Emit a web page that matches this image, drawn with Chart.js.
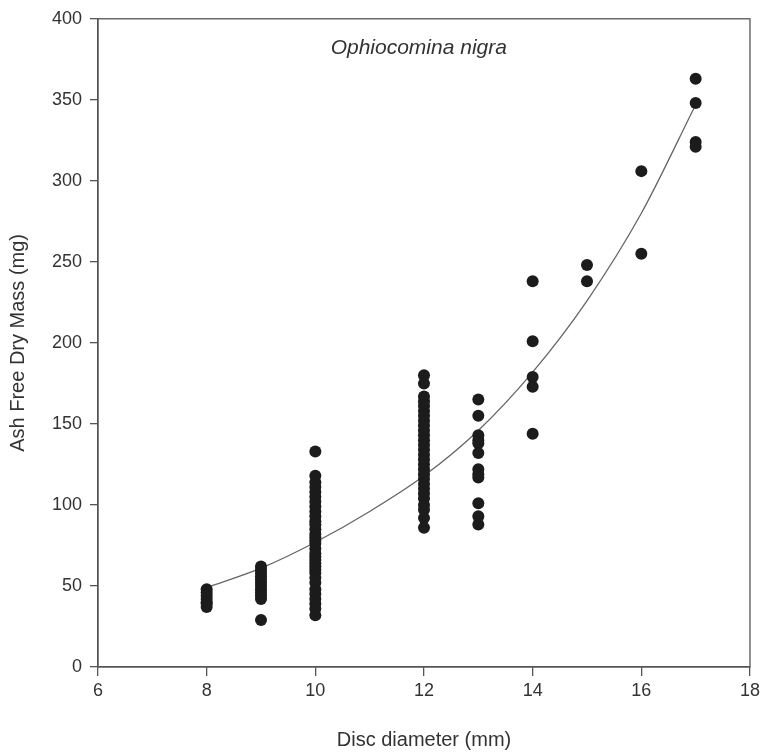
<!DOCTYPE html>
<html>
<head>
<meta charset="utf-8">
<script src="https://cdn.jsdelivr.net/npm/chart.js@4"></script>
<style>
  html, body { margin: 0; padding: 0; background: #fff; }
  #wrap { width: 764px; height: 756px; }
</style>
</head>
<body>
<div id="wrap"><canvas id="c" width="764" height="756"></canvas></div>
<script>
// --- data ---

const SPECIES = 'Ophiocomina nigra';
const X_TITLE = 'Disc diameter (mm)';
const Y_TITLE = 'Ash Free Dry Mass (mg)';

const mass8 = [48, 46, 44, 42, 40, 39, 37];
const mass9 = [62, 60, 58, 56, 54, 52, 50, 48, 46, 44, 42, 29];
const mass10 = [133, 118, 114, 111, 108, 105, 102, 99, 96, 93, 90, 88, 85, 82, 80, 78, 76, 73,
  70, 68, 66, 64, 62, 60, 58, 55, 52, 48, 45, 42, 39, 36, 32];
const mass12 = [180, 175, 167, 164, 161, 158, 155, 152, 149, 146, 143, 140, 137, 134, 131, 128,
  125, 122, 119, 116, 113, 110, 107, 104, 100, 97, 92, 86];
const mass13 = [165, 155, 143, 140, 138, 132, 122, 119, 117, 101, 93, 88];
const mass14 = [238, 201, 179, 173, 144];
const mass15 = [248, 238];
const mass16 = [306, 255];
const mass17 = [363, 348, 324, 321];

// fitted curve, read at whole millimetres
const fitX = [8, 9, 10, 11, 12, 13, 14, 15, 16, 17];
const fitY = [49, 61, 77, 96, 118, 146, 182, 226, 280, 347];

const xTicks = [6, 8, 10, 12, 14, 16, 18];
const yTicks = [0, 50, 100, 150, 200, 250, 300, 350, 400];

const columns = [[8, mass8], [9, mass9], [10, mass10], [12, mass12], [13, mass13],
  [14, mass14], [15, mass15], [16, mass16], [17, mass17]];

const points = [];
for (const [d, list] of columns) for (const m of list) points.push({ x: d, y: m });

const AXIS = '#555';
const TEXT = '#333';
const FONT = "'Liberation Sans', Arial, sans-serif";

// box round the plot + species label
const framePlugin = {
  id: 'frame',
  afterDraw(chart) {
    const { ctx, chartArea: a } = chart;
    ctx.save();
    ctx.strokeStyle = AXIS;
    ctx.lineWidth = 1.3;
    ctx.strokeRect(a.left, a.top, a.right - a.left, a.bottom - a.top);
    ctx.fillStyle = TEXT;
    ctx.font = 'italic 21px ' + FONT;
    ctx.textAlign = 'center';
    ctx.textBaseline = 'middle';
    ctx.fillText(SPECIES, a.left + (a.right - a.left) * 0.492, a.top + 29);
    ctx.restore();
  }
};

new Chart(document.getElementById('c'), {
  type: 'scatter',
  data: {
    datasets: [
      {
        label: 'fit',
        data: fitX.map((x, i) => ({ x, y: fitY[i] })),
        showLine: true,
        borderColor: '#666',
        borderWidth: 1.3,
        pointRadius: 0,
        cubicInterpolationMode: 'monotone',
        order: 2
      },
      {
        label: 'obs',
        data: points,
        backgroundColor: '#1c1c1c',
        borderColor: '#1c1c1c',
        borderWidth: 0,
        pointRadius: 6,
        order: 1
      }
    ]
  },
  options: {
    responsive: false,
    animation: false,
    layout: { padding: { top: 8, right: 12, left: 0, bottom: 0 } },
    plugins: { legend: { display: false }, tooltip: { enabled: false } },
    scales: {
      x: {
        type: 'linear', min: 6, max: 18,
        afterBuildTicks: s => { s.ticks = xTicks.map(v => ({ value: v })); },
        afterFit: s => { s.height = 89; },
        grid: { drawOnChartArea: false, tickLength: 9, color: AXIS, lineWidth: 1.3 },
        border: { color: AXIS, width: 1.3 },
        ticks: { color: TEXT, font: { family: FONT, size: 18 }, padding: 4, maxRotation: 0 },
        title: { display: true, text: X_TITLE, color: TEXT, font: { family: FONT, size: 20 },
          padding: { top: 8 } }
      },
      y: {
        type: 'linear', min: 0, max: 400,
        afterBuildTicks: s => { s.ticks = yTicks.map(v => ({ value: v })); },
        afterFit: s => { s.width = 98; },
        grid: { drawOnChartArea: false, tickLength: 8, color: AXIS, lineWidth: 1.3 },
        border: { color: AXIS, width: 1.3 },
        ticks: { color: TEXT, font: { family: FONT, size: 18 }, padding: 8 },
        title: { display: true, text: Y_TITLE, color: TEXT, font: { family: FONT, size: 20 },
          padding: { top: 6, bottom: 2 } }
      }
    }
  },
  plugins: [framePlugin]
});
</script>
</body>
</html>
